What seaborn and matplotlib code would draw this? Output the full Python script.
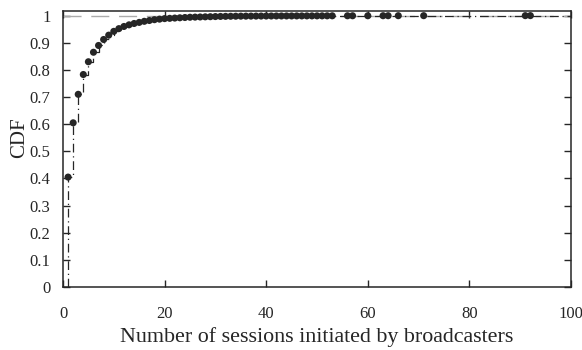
import matplotlib
matplotlib.use("Agg")
import matplotlib.pyplot as plt
import seaborn as sns
import numpy as np
import pandas as pd

# Number of sessions initiated by broadcasters (distinct values)
sessions = [1, 2, 3, 4, 5, 6, 7, 8, 9, 10,
            11, 12, 13, 14, 15, 16, 17, 18, 19, 20,
            21, 22, 23, 24, 25, 26, 27, 28, 29, 30,
            31, 32, 33, 34, 35, 36, 37, 38, 39, 40,
            41, 42, 43, 44, 45, 46, 47, 48, 49, 50,
            51, 52, 53, 56, 57, 60, 63, 64, 66, 71, 91, 92]
# empirical CDF at each value
cdf = [0.405, 0.605, 0.710, 0.783, 0.830, 0.865, 0.890, 0.912, 0.928, 0.942,
       0.952, 0.960, 0.966, 0.971, 0.975, 0.979, 0.982, 0.985, 0.987, 0.989,
       0.990, 0.991, 0.992, 0.993, 0.994, 0.9945, 0.995, 0.9955, 0.996, 0.9965,
       0.997, 0.9973, 0.9976, 0.9978, 0.998, 0.9981, 0.9982, 0.9983, 0.9984, 0.9985,
       0.9986, 0.9987, 0.9987, 0.9988, 0.9988, 0.9989, 0.9989, 0.999, 0.999, 0.9991,
       0.9991, 0.9992, 0.9993, 0.9994, 0.99945, 0.9995, 0.9996, 0.99965, 0.9997, 0.9998, 0.9999, 1.0]

x_ticks = [0, 20, 40, 60, 80, 100]
y_ticks = [0, 0.1, 0.2, 0.3, 0.4, 0.5, 0.6, 0.7, 0.8, 0.9, 1]
y_tick_labels = ["0", "0.1", "0.2", "0.3", "0.4", "0.5", "0.6", "0.7", "0.8", "0.9", "1"]

sns.set_style("ticks")
plt.rcParams['font.family'] = ['Liberation Serif', 'DejaVu Serif']

W, H = 582, 350
L, R, B, T = 63, 571, 287, 11
fig = plt.figure(figsize=(W/100, H/100), dpi=100)
ax = fig.add_axes([L/W, 1-B/H, (R-L)/W, (B-T)/H])

dark = "#262626"
x_max = x_ticks[-1]

# step line: starts at 0 at the first value, extends to the right edge at the last CDF value
line_df = pd.DataFrame({"x": [sessions[0]] + sessions + [x_max],
                        "y": [0.0] + cdf + [cdf[-1]]})
ax.axhline(1.0, color="#ababab", lw=1.0, dashes=(13, 7), zorder=1)
sns.lineplot(data=line_df, x="x", y="y", ax=ax, drawstyle="steps-post",
             color=dark, lw=0.9, linestyle=(0, (7, 3, 1, 3)),
             estimator=None, sort=False, zorder=2)
pts_df = pd.DataFrame({"x": sessions, "y": cdf})
sns.scatterplot(data=pts_df, x="x", y="y", ax=ax, s=26, color=dark,
                edgecolor="none", linewidth=0, zorder=3)

ax.set_xlim(0, x_max)
ax.set_ylim(0, 1.017)
ax.set_xticks(x_ticks)
ax.set_xticklabels([str(t) for t in x_ticks])
ax.set_yticks(y_ticks)
ax.set_yticklabels(y_tick_labels)

ax.tick_params(axis="both", which="major", direction="in", length=5, width=1,
               top=True, right=True, labelsize=12, colors=dark)
ax.tick_params(axis="x", pad=14)
ax.tick_params(axis="y", pad=9)
for sp in ax.spines.values():
    sp.set_linewidth(1.1)
    sp.set_color(dark)
    sp.set_visible(True)

ax.set_xlabel("Number of sessions initiated by broadcasters", fontsize=15.8, color=dark)
ax.set_ylabel("CDF", fontsize=15, color=dark)
ax.xaxis.set_label_coords(0.5, -(327 - B) / (B - T))
ax.yaxis.set_label_coords(-(L - 29) / (R - L), (B - 138) / (B - T))

fig.savefig("out.png", dpi=100)
